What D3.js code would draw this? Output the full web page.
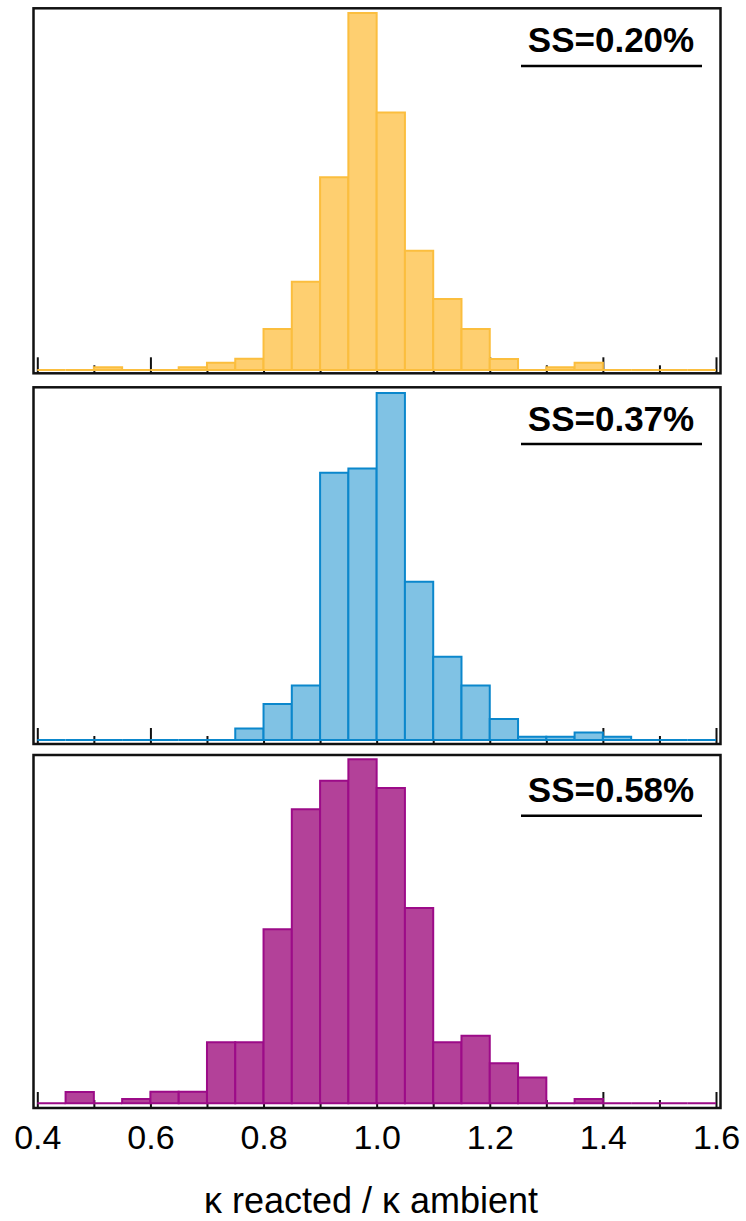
<!DOCTYPE html>
<html>
<head>
<meta charset="utf-8">
<script src="https://cdn.jsdelivr.net/npm/d3@7"></script>
<style>
  html, body { margin: 0; padding: 0; background: #fff; }
  svg { display: block; }
</style>
</head>
<body>
<svg id="chart" width="746" height="1221"></svg>
<script>
// ---------------- data ----------------
const binStarts = [0.40, 0.45, 0.50, 0.55, 0.60, 0.65, 0.70, 0.75, 0.80, 0.85, 0.90, 0.95,
                   1.00, 1.05, 1.10, 1.15, 1.20, 1.25, 1.30, 1.35, 1.40, 1.45, 1.50, 1.55];
const binWidth = 0.05;

const freqSS020 = [0, 0, 1, 0, 0, 1, 2.7, 4.2, 15.2, 32.7, 71.4, 132.3,
                   95.4, 44.2, 26.3, 15.2, 4.1, 0, 1, 2.7, 0, 0, 0, 0];
const freqSS037 = [0, 0, 0, 0, 0, 0, 0, 3.5, 10.9, 16.5, 81, 82.3,
                   105.2, 48, 25.2, 16.5, 6.4, 1, 1, 2.3, 1, 0, 0, 0];
const freqSS058 = [0, 2.6, 0, 1, 2.7, 2.7, 14.2, 14.2, 40.5, 68.4, 75, 80,
                   73.3, 45.4, 14.2, 15.7, 9.3, 6, 0, 1, 0, 0, 0, 0];

const panelLabels = ["SS=0.20%", "SS=0.37%", "SS=0.58%"];
const majorTicks = [0.4, 0.6, 0.8, 1.0, 1.2, 1.4, 1.6];
const minorTicks = [0.5, 0.7, 0.9, 1.1, 1.3, 1.5];
const xTitle = "\u03BA reacted / \u03BA ambient";

// ---------------- layout ----------------
const font = "'Liberation Sans', Arial, Helvetica, sans-serif";
const frameLeft = 33.5, frameRight = 720.5;
const panels = [
  { values: freqSS020, yMax: 134,   top: 8.3,   bottom: 373.3, base: 370,    fill: "#FECF70", stroke: "#FBBE3E", textY: 52,  lineY: 66 },
  { values: freqSS037, yMax: 106.9, top: 387.3, bottom: 744,   base: 740,    fill: "#80C2E4", stroke: "#0B87CC", textY: 431, lineY: 444 },
  { values: freqSS058, yMax: 81,    top: 755,   bottom: 1108,  base: 1103.3, fill: "#B34199", stroke: "#9C0B88", textY: 802, lineY: 815.7 }
];

const svg = d3.select("#chart");
const x = d3.scaleLinear().domain([0.4, 1.6]).range([37.3, 716]);

panels.forEach((p, i) => {
  const g = svg.append("g");
  const y = d3.scaleLinear().domain([0, p.yMax]).range([p.base, p.top]);

  // ticks (behind bars), pointing upward from frame bottom
  const majorAxis = d3.axisTop(x).tickValues(majorTicks).tickSize(16).tickFormat("");
  const minorAxis = d3.axisTop(x).tickValues(minorTicks).tickSize(8).tickFormat("");
  [majorAxis, minorAxis].forEach(ax => {
    const a = g.append("g").attr("transform", `translate(0,${p.bottom})`).call(ax);
    a.select(".domain").remove();
    a.selectAll("line").attr("stroke", "#111").attr("stroke-width", 2);
  });

  // bars
  const data = binStarts.map((b, k) => ({ x0: b, x1: b + binWidth, v: p.values[k] }));
  g.append("g").selectAll("path").data(data).join("path")
    .attr("d", d => {
      const xa = x(d.x0), xb = x(d.x1), y0 = y(0), y1 = y(d.v);
      return `M${xa},${y0}V${y1}H${xb}V${y0}Z`;
    })
    .attr("fill", p.fill)
    .attr("stroke", p.stroke)
    .attr("stroke-width", 2)
    .attr("stroke-linejoin", "miter");

  // frame
  g.append("rect")
    .attr("x", frameLeft).attr("y", p.top)
    .attr("width", frameRight - frameLeft).attr("height", p.bottom - p.top)
    .attr("fill", "none").attr("stroke", "#111").attr("stroke-width", 2.5);

  // SS label with underline
  g.append("text")
    .attr("x", 611).attr("y", p.textY)
    .attr("text-anchor", "middle")
    .attr("font-family", font).attr("font-weight", "bold").attr("font-size", 35)
    .attr("fill", "#000")
    .text(panelLabels[i]);
  g.append("line")
    .attr("x1", 521).attr("x2", 702).attr("y1", p.lineY).attr("y2", p.lineY)
    .attr("stroke", "#000").attr("stroke-width", 2.5);

  // tick labels only on the bottom panel
  if (i === panels.length - 1) {
    const labAxis = d3.axisBottom(x).tickValues(majorTicks).tickSize(0).tickFormat(d3.format(".1f"));
    const la = svg.append("g").attr("transform", `translate(0,${p.bottom})`).call(labAxis);
    la.select(".domain").remove();
    la.selectAll("text")
      .attr("y", 41).attr("dy", null)
      .attr("font-family", font).attr("font-size", 34).attr("fill", "#000");
  }
});

// x-axis title
svg.append("text")
  .attr("x", 371).attr("y", 1213)
  .attr("text-anchor", "middle")
  .attr("font-family", font).attr("font-size", 36).attr("fill", "#000")
  .text(xTitle);
</script>
</body>
</html>
